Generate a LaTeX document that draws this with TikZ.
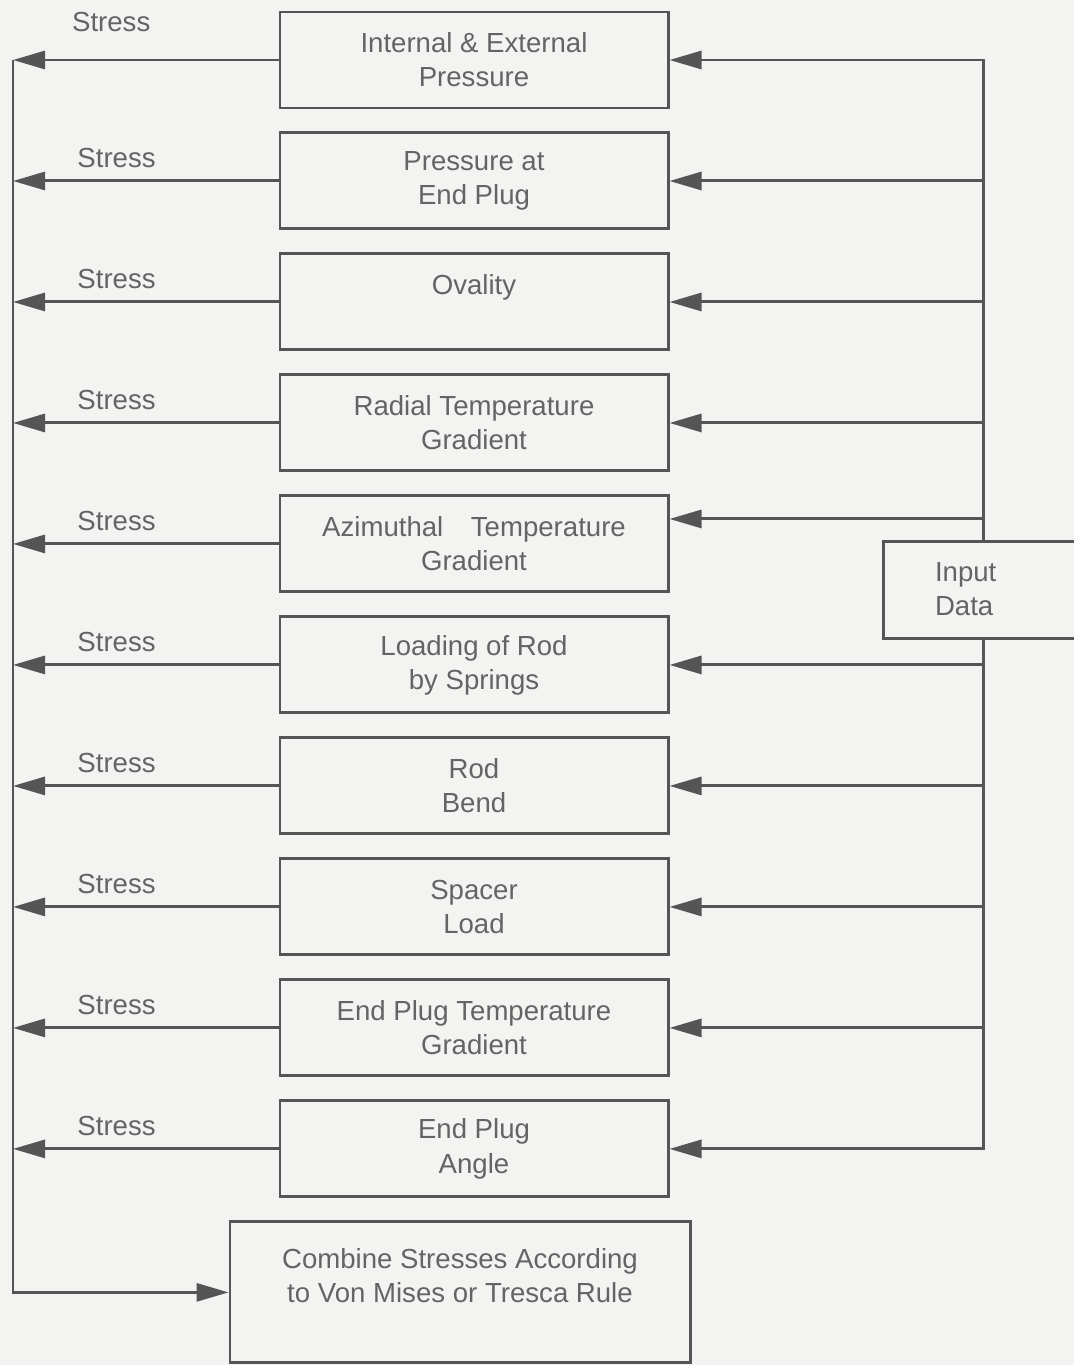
\documentclass[tikz,border=0pt]{standalone}
\usepackage{fontspec}
\setmainfont{Liberation Sans}
\usepackage{xcolor}
\definecolor{inkline}{RGB}{85,85,85}
\definecolor{inktext}{RGB}{100,100,100}
\definecolor{paper}{RGB}{243,243,241}
\usetikzlibrary{arrows.meta,positioning}
\tikzset{
  calcbox/.style={rectangle,
    draw=inkline,line width=1.7pt,
    minimum width=7.76cm,minimum height=1.92cm,
    align=center,text=inktext,
    font=\fontsize{15.7}{19.4}\selectfont},
  combbox/.style={calcbox,
    minimum width=9.2cm,minimum height=2.82cm},
  inbox/.style={rectangle,
    draw=inkline,line width=1.7pt,
    minimum height=1.94cm,text width=1.92cm,
    inner xsep=1.04cm,align=left,text=inktext,
    font=\fontsize{15.7}{19.4}\selectfont},
  lbl/.style={text=inktext,inner sep=0pt,
    font=\fontsize{15.7}{19.4}\selectfont},
  arr/.style={-{Triangle[length=0.64cm,width=0.36cm]},
    line width=1.7pt,draw=inkline},
}
\begin{document}
\begin{tikzpicture}[node distance=0.44cm]
  \fill[paper] (0,0) rectangle (21.48,-27.3);
  \useasboundingbox (0,0) rectangle (21.48,-27.3);
  % calculation boxes
  \node (b1) [calcbox] at (9.48,-1.2) {Internal \& External\\Pressure};
  \node (b2) [calcbox, below=of b1] {Pressure at\\End Plug};
  \node (b3) [calcbox, below=of b2] {Ovality\\~};
  \node (b4) [calcbox, below=of b3] {Radial Temperature\\Gradient};
  \node (b5) [calcbox, below=of b4] {Azimuthal\quad Temperature\\Gradient};
  \node (b6) [calcbox, below=of b5] {Loading of Rod\\by Springs};
  \node (b7) [calcbox, below=of b6] {Rod\\Bend};
  \node (b8) [calcbox, below=of b7] {Spacer\\Load};
  \node (b9) [calcbox, below=of b8] {End Plug Temperature\\Gradient};
  \node (b10) [calcbox, below=of b9] {End Plug\\Angle};
  \node (comb) [combbox, below=0.44cm of b10, xshift=-0.28cm]
    {Combine Stresses According\\to Von Mises or Tresca Rule\\~};
  \node (inp) [inbox] at (19.66,-11.79) {Input\\Data};
  \coordinate (spine) at (0.26,-1.2);
  % input data feeds every box
  \foreach \b in {b1,b2,b3,b4}
    \draw[arr] (inp.north) |- (\b.east);
  \draw[arr] (inp.north) |- ([yshift=0.5cm]b5.east);
  \foreach \b in {b6,b7,b8,b9,b10}
    \draw[arr] (inp.south) |- (\b.east);
  % stresses go back to the left line
  \draw[arr] (b1.west) -- node[lbl,pos=0.63,yshift=0.76cm]{Stress} (b1.west -| spine);
  \foreach \b in {b2,b3,b4,b5,b6,b7,b8,b9,b10}
    \draw[arr] (\b.west) -- node[lbl,pos=0.61,yshift=0.46cm]{Stress} (\b.west -| spine);
  \draw[arr] (spine) |- (comb.west);
\end{tikzpicture}
\end{document}
